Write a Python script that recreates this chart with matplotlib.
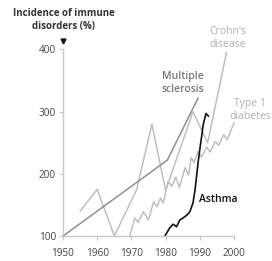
import matplotlib
matplotlib.use("Agg")
import matplotlib.pyplot as plt

plt.rcParams['font.family'] = ['Open Sans', 'DejaVu Sans']

# Data (years, incidence %)
ms_years = [1950, 1980.5, 1989.5]
ms_vals = [100, 222, 322]

crohn_years = [1955, 1960, 1965, 1971.5, 1976, 1980, 1988, 1992.3, 1997.8]
crohn_vals = [140, 175, 100, 174, 280, 173, 300, 250, 395]

t1d_years = [1969.5, 1971, 1972, 1973.5, 1975, 1976.5, 1977.5, 1978.5, 1979.3,
             1980.7, 1981.8, 1983, 1984, 1985.7, 1986.7, 1987.5, 1988.3, 1989.5,
             1990.5, 1992, 1993, 1994.5, 1995.5, 1997, 1998, 2000]
t1d_vals = [100, 129, 122, 139, 126, 155, 147, 161, 153,
            188, 180, 195, 178, 210, 198, 226, 218, 236,
            227, 243, 235, 252, 246, 263, 255, 282]

asthma_years = [1979.8, 1981.2, 1982.2, 1983.2, 1984.2, 1985.1, 1986.3, 1987.1,
                1988, 1988.6, 1989.5, 1990, 1991, 1991.8, 1992.5]
asthma_vals = [100, 113, 119, 115, 126, 129, 134, 139,
               153, 174, 218, 239, 279, 297, 293]

x_ticks = [1950, 1960, 1970, 1980, 1990, 2000]
y_ticks = [100, 200, 300, 400]

W, H = 272, 261
fig = plt.figure(figsize=(W / 100, H / 100), dpi=100)
ax = fig.add_axes([63 / W, 1 - 236 / H, (234 - 63) / W, (236 - 49.5) / H])

light = '#bdbdbd'
mid = '#8c8c8c'
ax.plot(crohn_years, crohn_vals, color=light, lw=1.05, clip_on=False)
ax.plot(t1d_years, t1d_vals, color=light, lw=1.05, clip_on=False)
ax.plot(ms_years, ms_vals, color=mid, lw=1.05, clip_on=False)
ax.plot(asthma_years, asthma_vals, color='#111111', lw=1.2, clip_on=False)

ax.set_xlim(1950, 2000)
ax.set_ylim(100, 400)
ax.set_xticks(x_ticks)
ax.set_yticks(y_ticks)
for s in ['top', 'right']:
    ax.spines[s].set_visible(False)
for s in ['left', 'bottom']:
    ax.spines[s].set_color('#c8c8c8')
    ax.spines[s].set_linewidth(1.0)
ax.tick_params(axis='both', length=3, width=0.8, color='#c8c8c8',
               labelsize=7.2, labelcolor='#444444')
ax.tick_params(axis='x', pad=5.5)
ax.tick_params(axis='y', pad=2)
ax.set_facecolor('none')

# arrow marker at top of y axis
ax.plot([1950], [414], marker='v', color='#111111', markersize=3.5, clip_on=False)

def fx(x):
    return x / W

def fy(y):
    return 1 - y / H

fig.text(fx(64), fy(20.5), 'Incidence of immune\ndisorders (%)', ha='center', va='center',
         fontsize=7, fontweight='bold', color='#333333', linespacing=1.25)
fig.text(fx(228), fy(38), "Crohn's\ndisease", ha='center', va='center',
         fontsize=7.5, color='#b0b0b0', linespacing=1.25)
fig.text(fx(183), fy(83.5), 'Multiple\nsclerosis', ha='center', va='center',
         fontsize=7.5, color='#777777', fontweight='semibold', linespacing=1.25)
fig.text(fx(250), fy(110), 'Type 1\ndiabetes', ha='center', va='center',
         fontsize=7.5, color='#b0b0b0', linespacing=1.25)
fig.text(fx(218.5), fy(200), 'Asthma', ha='center', va='center',
         fontsize=7.5, color='#111111', fontweight='semibold')

fig.savefig('out.png', dpi=100)
